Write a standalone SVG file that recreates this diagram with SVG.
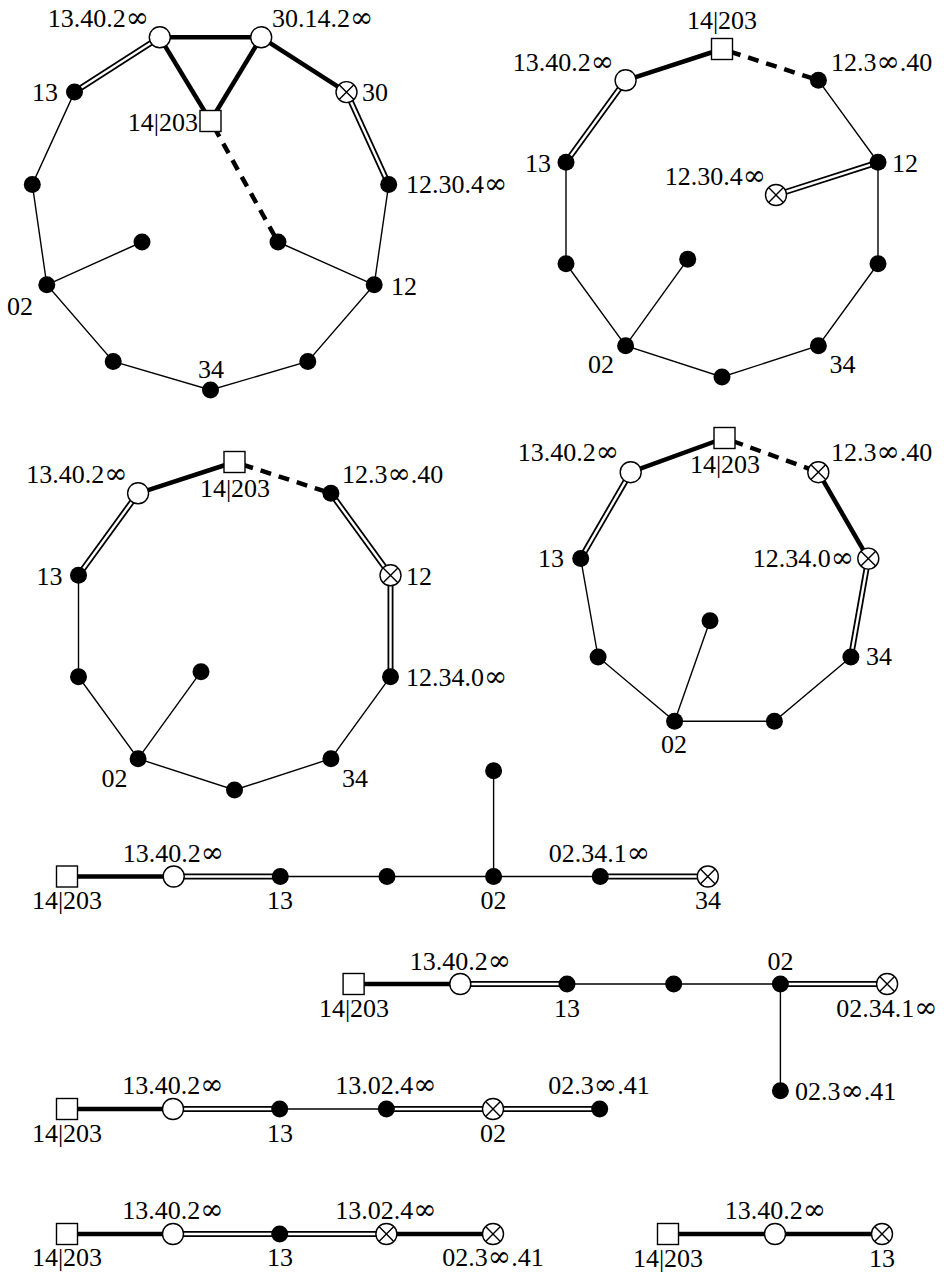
<svg xmlns="http://www.w3.org/2000/svg" width="944" height="1274" viewBox="0 0 944 1274" font-family="Liberation Serif, Times New Roman, serif" font-size="26">
<style>
.m{text-anchor:middle}.e{text-anchor:end}
.i{font-family:"DejaVu Serif",serif;font-size:28px}
.thin{stroke:#000;stroke-width:1.4;fill:none}
.thick{stroke:#000;stroke-width:4.5;fill:none}
.dash{stroke:#000;stroke-width:4.5;stroke-dasharray:11 8;fill:none}
.dblo{stroke:#000;stroke-width:6;fill:none}
.dbli{stroke:#fff;stroke-width:2.4;fill:none}
</style>
<defs>
<circle id="fc" r="8.5" fill="#000"/>
<circle id="oc" r="10.5" fill="#fff" stroke="#000" stroke-width="1.4"/>
<g id="ot"><circle r="10.5" fill="#fff" stroke="#000" stroke-width="1.4"/><path d="M-7.4,-7.4L7.4,7.4M-7.4,7.4L7.4,-7.4" stroke="#000" stroke-width="1.4"/></g>
<rect id="sq" x="-10.5" y="-10.5" width="21" height="21" fill="#fff" stroke="#000" stroke-width="1.4"/>
</defs>
<rect width="944" height="1274" fill="#fff"/>

<g id="connectors">
<!-- diagram 1 -->
<line class="thick" x1="159.8" y1="37.3" x2="261.2" y2="37.3"/>
<line class="thick" x1="159.8" y1="37.3" x2="210.5" y2="121"/>
<line class="thick" x1="261.2" y1="37.3" x2="210.5" y2="121"/>
<line class="thick" x1="261.2" y1="37.3" x2="346.5" y2="92.1"/>
<line class="dblo" x1="159.8" y1="37.3" x2="74.5" y2="92.1"/><line class="dbli" x1="159.8" y1="37.3" x2="74.5" y2="92.1"/>
<line class="dblo" x1="346.5" y1="92.1" x2="388.7" y2="184.4"/><line class="dbli" x1="346.5" y1="92.1" x2="388.7" y2="184.4"/>
<polyline class="thin" points="74.5,92.1 32.3,184.4 46.8,284.8 113.2,361.4 210.5,390 307.8,361.4 374.2,284.8 388.7,184.4"/>
<line class="thin" x1="46.8" y1="284.8" x2="142" y2="242"/>
<line class="thin" x1="374.2" y1="284.8" x2="278" y2="242"/>
<line class="dash" x1="214" y1="127" x2="278" y2="242"/>
<!-- diagram 2 -->
<line class="thick" x1="625.6" y1="80.3" x2="722" y2="49"/>
<line class="dash" x1="730" y1="51.6" x2="818.4" y2="80.3"/>
<polyline class="thin" points="818.4,80.3 878,162.3 878,263.7 818.4,345.7 722,377 625.6,345.7 566,263.7 566,162.3"/>
<line class="thin" x1="625.6" y1="345.7" x2="687.7" y2="259.3"/>
<line class="dblo" x1="878" y1="162.3" x2="776" y2="195"/><line class="dbli" x1="878" y1="162.3" x2="776" y2="195"/>
<line class="dblo" x1="566" y1="162.3" x2="625.6" y2="80.3"/><line class="dbli" x1="566" y1="162.3" x2="625.6" y2="80.3"/>
<!-- diagram 3 -->
<line class="thick" x1="138.1" y1="493.3" x2="234.5" y2="462"/>
<line class="dash" x1="242.5" y1="464.6" x2="330.9" y2="493.3"/>
<line class="dblo" x1="330.9" y1="493.3" x2="390.5" y2="575.3"/><line class="dbli" x1="330.9" y1="493.3" x2="390.5" y2="575.3"/>
<line class="dblo" x1="390.5" y1="575.3" x2="390.5" y2="676.7"/><line class="dbli" x1="390.5" y1="575.3" x2="390.5" y2="676.7"/>
<line class="dblo" x1="78.5" y1="575.3" x2="138.1" y2="493.3"/><line class="dbli" x1="78.5" y1="575.3" x2="138.1" y2="493.3"/>
<polyline class="thin" points="390.5,676.7 330.9,758.7 234.5,790 138.1,758.7 78.5,676.7 78.5,575.3"/>
<line class="thin" x1="138.1" y1="758.7" x2="201" y2="671.7"/>
<!-- diagram 4 -->
<line class="thick" x1="630.7" y1="472.2" x2="724.5" y2="438"/>
<line class="dash" x1="732.5" y1="441" x2="818.3" y2="472.2"/>
<line class="thick" x1="818.3" y1="472.2" x2="868.3" y2="558.6"/>
<line class="dblo" x1="868.3" y1="558.6" x2="850.9" y2="657"/><line class="dbli" x1="868.3" y1="558.6" x2="850.9" y2="657"/>
<line class="dblo" x1="580.7" y1="558.6" x2="630.7" y2="472.2"/><line class="dbli" x1="580.7" y1="558.6" x2="630.7" y2="472.2"/>
<polyline class="thin" points="850.9,657 774.4,721.2 674.6,721.2 598.1,657 580.7,558.6"/>
<line class="thin" x1="674.6" y1="721.2" x2="710" y2="620.7"/>
<!-- row 5 -->
<line class="thick" x1="67" y1="876.5" x2="173.7" y2="876.5"/>
<line class="dblo" x1="173.7" y1="876.5" x2="280.3" y2="876.5"/><line class="dbli" x1="173.7" y1="876.5" x2="280.3" y2="876.5"/>
<line class="thin" x1="280.3" y1="876.5" x2="600.2" y2="876.5"/>
<line class="dblo" x1="600.2" y1="876.5" x2="707.8" y2="876.5"/><line class="dbli" x1="600.2" y1="876.5" x2="707.8" y2="876.5"/>
<line class="thin" x1="493.6" y1="770.7" x2="493.6" y2="876.5"/>
<!-- row 6 -->
<line class="thick" x1="353.6" y1="984" x2="460.3" y2="984"/>
<line class="dblo" x1="460.3" y1="984" x2="567" y2="984"/><line class="dbli" x1="460.3" y1="984" x2="567" y2="984"/>
<line class="thin" x1="567" y1="984" x2="780.4" y2="984"/>
<line class="dblo" x1="780.4" y1="984" x2="887.1" y2="984"/><line class="dbli" x1="780.4" y1="984" x2="887.1" y2="984"/>
<line class="thin" x1="780.4" y1="984" x2="780.4" y2="1090.7"/>
<!-- row 7 -->
<line class="thick" x1="67" y1="1109" x2="173" y2="1109"/>
<line class="dblo" x1="173" y1="1109" x2="279.7" y2="1109"/><line class="dbli" x1="173" y1="1109" x2="279.7" y2="1109"/>
<line class="thin" x1="279.7" y1="1109" x2="386.4" y2="1109"/>
<line class="dblo" x1="386.4" y1="1109" x2="599.7" y2="1109"/><line class="dbli" x1="386.4" y1="1109" x2="599.7" y2="1109"/>
<!-- row 8 -->
<line class="thick" x1="67" y1="1234" x2="173" y2="1234"/>
<line class="dblo" x1="173" y1="1234" x2="386.4" y2="1234"/><line class="dbli" x1="173" y1="1234" x2="386.4" y2="1234"/>
<line class="thick" x1="386.4" y1="1234" x2="493" y2="1234"/>
<line class="thick" x1="668" y1="1234" x2="882" y2="1234"/>
</g>

<!-- diagram 1 nodes -->
<g id="d1-a"><use href="#oc" x="159.8" y="37.3"/><text class="e" x="149" y="27">13.40.2<tspan class="i">∞</tspan></text></g>
<g id="d1-b"><use href="#oc" x="261.2" y="37.3"/><text x="272" y="27">30.14.2<tspan class="i">∞</tspan></text></g>
<g id="d1-c"><use href="#ot" x="346.5" y="92.1"/><text x="362" y="101">30</text></g>
<g id="d1-d"><use href="#fc" x="388.7" y="184.4"/><text x="406" y="193">12.30.4<tspan class="i">∞</tspan></text></g>
<g id="d1-e"><use href="#fc" x="374.2" y="284.8"/><text x="391" y="295">12</text></g>
<g id="d1-f"><use href="#fc" x="307.8" y="361.4"/></g>
<g id="d1-g"><use href="#fc" x="210.5" y="390"/><text class="m" x="211" y="378">34</text></g>
<g id="d1-h"><use href="#fc" x="113.2" y="361.4"/></g>
<g id="d1-i"><use href="#fc" x="46.8" y="284.8"/><text x="7" y="315">02</text></g>
<g id="d1-j"><use href="#fc" x="32.3" y="184.4"/></g>
<g id="d1-k"><use href="#fc" x="74.5" y="92.1"/><text class="e" x="58" y="101">13</text></g>
<g id="d1-s"><use href="#sq" x="210.5" y="121"/><text class="e" x="198" y="131">14|203</text></g>
<g id="d1-l"><use href="#fc" x="142" y="242"/></g>
<g id="d1-m"><use href="#fc" x="278" y="242"/></g>

<!-- diagram 2 nodes -->
<g id="d2-s"><use href="#sq" x="722" y="49"/><text class="m" x="722" y="29">14|203</text></g>
<g id="d2-1"><use href="#fc" x="818.4" y="80.3"/><text x="831" y="71">12.3<tspan class="i">∞</tspan>.40</text></g>
<g id="d2-2"><use href="#fc" x="878" y="162.3"/><text x="892" y="172">12</text></g>
<g id="d2-3"><use href="#fc" x="878" y="263.7"/></g>
<g id="d2-4"><use href="#fc" x="818.4" y="345.7"/><text class="m" x="842.5" y="373">34</text></g>
<g id="d2-5"><use href="#fc" x="722" y="377"/></g>
<g id="d2-6"><use href="#fc" x="625.6" y="345.7"/><text class="m" x="601" y="373">02</text></g>
<g id="d2-7"><use href="#fc" x="566" y="263.7"/></g>
<g id="d2-8"><use href="#fc" x="566" y="162.3"/><text class="e" x="551" y="172">13</text></g>
<g id="d2-9"><use href="#oc" x="625.6" y="80.3"/><text class="e" x="614" y="71">13.40.2<tspan class="i">∞</tspan></text></g>
<g id="d2-x"><use href="#ot" x="776" y="195"/><text class="e" x="766" y="185">12.30.4<tspan class="i">∞</tspan></text></g>
<g id="d2-in"><use href="#fc" x="687.7" y="259.3"/></g>

<!-- diagram 3 nodes -->
<g id="d3-s"><use href="#sq" x="234.5" y="462"/><text class="m" x="235" y="497">14|203</text></g>
<g id="d3-1"><use href="#fc" x="330.9" y="493.3"/><text x="342" y="483">12.3<tspan class="i">∞</tspan>.40</text></g>
<g id="d3-2"><use href="#ot" x="390.5" y="575.3"/><text x="406" y="585">12</text></g>
<g id="d3-3"><use href="#fc" x="390.5" y="676.7"/><text x="406" y="686">12.34.0<tspan class="i">∞</tspan></text></g>
<g id="d3-4"><use href="#fc" x="330.9" y="758.7"/><text class="m" x="355" y="787">34</text></g>
<g id="d3-5"><use href="#fc" x="234.5" y="790"/></g>
<g id="d3-6"><use href="#fc" x="138.1" y="758.7"/><text class="m" x="114.5" y="787">02</text></g>
<g id="d3-7"><use href="#fc" x="78.5" y="676.7"/></g>
<g id="d3-8"><use href="#fc" x="78.5" y="575.3"/><text class="e" x="62.5" y="585">13</text></g>
<g id="d3-9"><use href="#oc" x="138.1" y="493.3"/><text class="e" x="127.5" y="483">13.40.2<tspan class="i">∞</tspan></text></g>
<g id="d3-in"><use href="#fc" x="201" y="671.7"/></g>

<!-- diagram 4 nodes -->
<g id="d4-s"><use href="#sq" x="724.5" y="438"/><text class="m" x="725" y="473">14|203</text></g>
<g id="d4-1"><use href="#ot" x="818.3" y="472.2"/><text x="831" y="461">12.3<tspan class="i">∞</tspan>.40</text></g>
<g id="d4-2"><use href="#ot" x="868.3" y="558.6"/><text class="e" x="854" y="567">12.34.0<tspan class="i">∞</tspan></text></g>
<g id="d4-3"><use href="#fc" x="850.9" y="657"/><text x="866" y="665">34</text></g>
<g id="d4-4"><use href="#fc" x="774.4" y="721.2"/></g>
<g id="d4-5"><use href="#fc" x="674.6" y="721.2"/><text class="m" x="674" y="753">02</text></g>
<g id="d4-6"><use href="#fc" x="598.1" y="657"/></g>
<g id="d4-7"><use href="#fc" x="580.7" y="558.6"/><text class="e" x="564" y="567">13</text></g>
<g id="d4-8"><use href="#oc" x="630.7" y="472.2"/><text class="e" x="619" y="461">13.40.2<tspan class="i">∞</tspan></text></g>
<g id="d4-in"><use href="#fc" x="710" y="620.7"/></g>

<!-- row 5 nodes -->
<g id="r5-s"><use href="#sq" x="67" y="876.5"/><text class="m" x="67" y="909">14|203</text></g>
<g id="r5-a"><use href="#oc" x="173.7" y="876.5"/><text class="m" x="173.5" y="862">13.40.2<tspan class="i">∞</tspan></text></g>
<g id="r5-b"><use href="#fc" x="280.3" y="876.5"/><text class="m" x="280" y="909">13</text></g>
<g id="r5-c"><use href="#fc" x="387" y="876.5"/></g>
<g id="r5-d"><use href="#fc" x="493.6" y="876.5"/><text class="m" x="493.6" y="909">02</text></g>
<g id="r5-e"><use href="#fc" x="600.2" y="876.5"/><text class="m" x="599.5" y="862">02.34.1<tspan class="i">∞</tspan></text></g>
<g id="r5-f"><use href="#ot" x="707.8" y="876.5"/><text class="m" x="708" y="909">34</text></g>
<g id="r5-t"><use href="#fc" x="493.6" y="770.7"/></g>

<!-- row 6 nodes -->
<g id="r6-s"><use href="#sq" x="353.6" y="984"/><text class="m" x="354" y="1017">14|203</text></g>
<g id="r6-a"><use href="#oc" x="460.3" y="984"/><text class="m" x="460.5" y="969.5">13.40.2<tspan class="i">∞</tspan></text></g>
<g id="r6-b"><use href="#fc" x="567" y="984"/><text class="m" x="567" y="1017">13</text></g>
<g id="r6-c"><use href="#fc" x="673.7" y="984"/></g>
<g id="r6-d"><use href="#fc" x="780.4" y="984"/><text class="m" x="780.4" y="969.5">02</text></g>
<g id="r6-e"><use href="#ot" x="887.1" y="984"/><text class="m" x="887" y="1017">02.34.1<tspan class="i">∞</tspan></text></g>
<g id="r6-t"><use href="#fc" x="780.4" y="1090.7"/><text x="795" y="1100">02.3<tspan class="i">∞</tspan>.41</text></g>

<!-- row 7 nodes -->
<g id="r7-s"><use href="#sq" x="67" y="1109"/><text class="m" x="67" y="1142">14|203</text></g>
<g id="r7-a"><use href="#oc" x="173" y="1109"/><text class="m" x="173" y="1093.5">13.40.2<tspan class="i">∞</tspan></text></g>
<g id="r7-b"><use href="#fc" x="279.7" y="1109"/><text class="m" x="280" y="1142">13</text></g>
<g id="r7-c"><use href="#fc" x="386.4" y="1109"/><text class="m" x="386" y="1093.5">13.02.4<tspan class="i">∞</tspan></text></g>
<g id="r7-d"><use href="#ot" x="493" y="1109"/><text class="m" x="493" y="1142">02</text></g>
<g id="r7-e"><use href="#fc" x="599.7" y="1109"/><text class="m" x="599" y="1093.5">02.3<tspan class="i">∞</tspan>.41</text></g>

<!-- row 8 nodes -->
<g id="r8-s"><use href="#sq" x="67" y="1234"/><text class="m" x="67" y="1266">14|203</text></g>
<g id="r8-a"><use href="#oc" x="173" y="1234"/><text class="m" x="173" y="1218.5">13.40.2<tspan class="i">∞</tspan></text></g>
<g id="r8-b"><use href="#fc" x="279.7" y="1234"/><text class="m" x="280" y="1266">13</text></g>
<g id="r8-c"><use href="#ot" x="386.4" y="1234"/><text class="m" x="386" y="1218.5">13.02.4<tspan class="i">∞</tspan></text></g>
<g id="r8-d"><use href="#ot" x="493" y="1234"/><text class="m" x="493" y="1266">02.3<tspan class="i">∞</tspan>.41</text></g>

<!-- row 8 right nodes -->
<g id="r9-s"><use href="#sq" x="668" y="1234"/><text class="m" x="668" y="1267">14|203</text></g>
<g id="r9-a"><use href="#oc" x="775" y="1234"/><text class="m" x="775.5" y="1219">13.40.2<tspan class="i">∞</tspan></text></g>
<g id="r9-b"><use href="#ot" x="882" y="1234"/><text class="m" x="882" y="1267">13</text></g>
</svg>
